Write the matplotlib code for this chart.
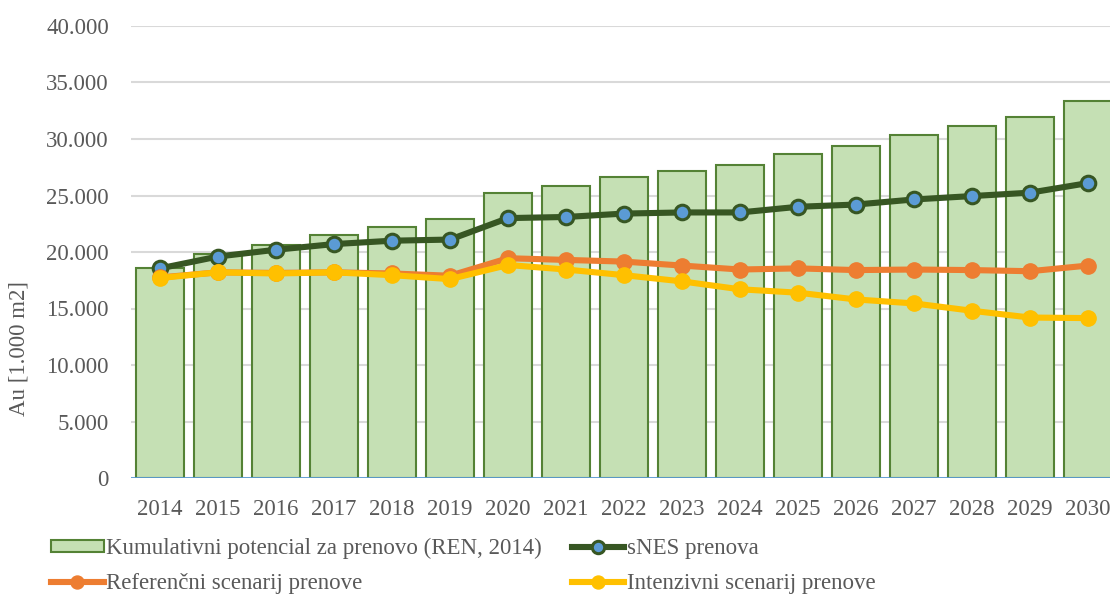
import matplotlib
matplotlib.use("Agg")
import matplotlib.pyplot as plt
from matplotlib.ticker import FuncFormatter

# data (1.000 m2)
years = [str(y) for y in range(2014, 2031)]
potencial = [18550, 19800, 20650, 21500, 22250, 22900, 25200, 25850, 26600,
             27150, 27700, 28700, 29400, 30350, 31150, 31950, 33350]
snes = [18550, 19600, 20200, 20700, 21000, 21100, 23000, 23100, 23400,
        23500, 23500, 24000, 24200, 24650, 24950, 25250, 26100]
referencni = [17750, 18200, 18150, 18200, 18100, 17900, 19450, 19300, 19150,
              18800, 18450, 18550, 18400, 18450, 18400, 18300, 18800]
intenzivni = [17700, 18200, 18100, 18200, 17950, 17600, 18850, 18450, 17950,
              17400, 16700, 16400, 15800, 15450, 14800, 14200, 14150]

labels = ["Kumulativni potencial za prenovo (REN, 2014)", "sNES prenova",
          "Referenčni scenarij prenove", "Intenzivni scenarij prenove"]

txt = "#595959"
fs = 16.5
plt.rcParams["font.family"] = ["Liberation Serif", "DejaVu Serif"]

fig = plt.figure(figsize=(11.10, 6.01), dpi=100)
# axes runs a bit past the right edge, like the cropped original
ax = fig.add_axes([131 / 1110, 1 - 478 / 601, 986 / 1110, 452 / 601])

x = list(range(len(years)))
bars = ax.bar(x, potencial, width=0.82, color="#C5E0B4", edgecolor="#548235",
              linewidth=1.5, zorder=2)
l1, = ax.plot(x, snes, color="#375623", lw=4.4, marker="o", ms=10.5,
              mfc="#5B9BD5", mec="#375623", mew=2.2, zorder=3)
l2, = ax.plot(x, referencni, color="#ED7D31", lw=4.4, marker="o", ms=11,
              mfc="#ED7D31", mec="#ED7D31", zorder=4)
l3, = ax.plot(x, intenzivni, color="#FFC000", lw=4.4, marker="o", ms=11,
              mfc="#FFC000", mec="#FFC000", zorder=5)

ax.set_xlim(-0.5, len(years) - 0.5)
ax.set_ylim(0, 40000)
ax.set_yticks(range(0, 40001, 5000))
ax.yaxis.set_major_formatter(FuncFormatter(lambda v, p: f"{int(v):,}".replace(",", ".")))
ax.set_xticks(x)
ax.set_xticklabels(years)
ax.grid(axis="y", color="#D9D9D9", lw=1.5, zorder=0)
ax.set_axisbelow(True)
ax.axhline(0, color="#5B9BD5", lw=2, zorder=6)

for s in ax.spines.values():
    s.set_visible(False)
ax.tick_params(axis="both", length=0, labelsize=fs, labelcolor=txt)
ax.tick_params(axis="y", pad=16)
ax.tick_params(axis="x", pad=15)

fig.text(19 / 1110, 252 / 601, "Au [1.000 m2]", rotation=90, ha="center",
         va="center", fontsize=fs, color=txt)

leg = fig.legend([bars, l2, l1, l3], [labels[0], labels[2], labels[1], labels[3]],
                 ncol=2, loc="upper left", bbox_to_anchor=(51 / 1110, 1 - 538 / 601),
                 frameon=False, fontsize=fs, borderpad=0, borderaxespad=0,
                 handlelength=2.3, handleheight=0.4, handletextpad=0.1,
                 columnspacing=1.3, labelspacing=0.6, markerscale=0.85)
for t in leg.get_texts():
    t.set_color(txt)

fig.savefig("out.png", dpi=100)
